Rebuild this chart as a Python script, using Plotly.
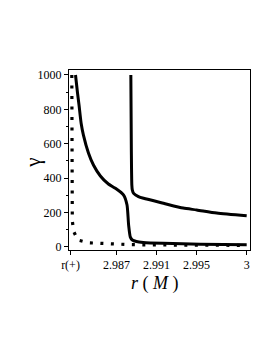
import plotly.graph_objects as go

r_plus = 2.98242

# Curve A (solid, left branch falling to near zero)
a_r = [2.98292, 2.98312, 2.98327, 2.98348, 2.98371, 2.98421, 2.98471, 2.98540,
       2.98620, 2.98690, 2.98772, 2.98806, 2.98822, 2.98839, 2.98859, 2.98900,
       2.98968, 2.99167, 2.99535, 3.0]
a_g = [1000, 895, 825, 719, 650, 546, 476, 412,
       365, 340, 301, 243, 126, 56, 39, 30,
       25, 20, 15, 12]

# Curve B (solid, vertical then decaying)
b_r = [2.98844, 2.98849, 2.98854, 2.98859, 2.98872, 2.98920, 2.98971, 2.99170,
       2.99366, 2.99502, 2.99701, 3.0]
b_g = [1000, 563, 359, 330, 311, 292, 282, 253,
       225, 214, 196, 180]

# Curve C (dotted, near horizon)
c_r = [2.98255, 2.98256, 2.98260, 2.98275, 2.98315, 2.98424, 2.98523, 2.98633,
       2.98739, 2.98839, 2.9920, 2.9960, 3.0]
c_g = [1000, 500, 150, 87, 39, 23, 20, 16,
       14, 12, 10, 9, 8]

x_tickvals = [r_plus, 2.987, 2.991, 2.995, 3.0]
x_ticktext = ["r(+)", "2.987", "2.991", "2.995", "3"]
y_tickvals = [0, 200, 400, 600, 800, 1000]

fig = go.Figure()
fig.add_trace(go.Scatter(x=c_r, y=c_g, mode="lines",
                         line=dict(color="black", width=3.2, dash="3px,7.5px"),
                         showlegend=False))
fig.add_trace(go.Scatter(x=a_r, y=a_g, mode="lines", line_shape="spline",
                         line=dict(color="black", width=3, smoothing=0.6),
                         showlegend=False))
fig.add_trace(go.Scatter(x=b_r, y=b_g, mode="lines", line_shape="spline",
                         line=dict(color="black", width=3, smoothing=0.6),
                         showlegend=False))

font_serif = "Liberation Serif"
fig.update_layout(
    width=273, height=353,
    margin=dict(l=60.5, r=31, t=62, b=111),
    paper_bgcolor="white", plot_bgcolor="white",
    font=dict(family=font_serif, size=12, color="black"),
    xaxis=dict(range=[2.98227, 3.00033], tickvals=x_tickvals, ticktext=x_ticktext,
               automargin=False,
               showgrid=False, zeroline=False, showline=True, linecolor="black",
               linewidth=1, mirror=True, ticks="outside", ticklen=4,
               tickcolor="black", tickfont=dict(family=font_serif, size=12, color="black")),
    yaxis=dict(range=[-19, 1029], tickvals=y_tickvals,
               automargin=False,
               showgrid=False, zeroline=False, showline=True, linecolor="black",
               linewidth=1, mirror=True, ticks="outside", ticklen=4,
               tickcolor="black", tickfont=dict(family=font_serif, size=12, color="black"),
               minor=dict(dtick=100, ticks="outside", ticklen=2, tickcolor="black")),
    annotations=[
        dict(text="<i>r</i> ( <i>M</i> )", xref="paper", yref="paper",
             x=0.4766, y=-0.188, xanchor="center", yanchor="middle",
             showarrow=False, font=dict(family=font_serif, size=18, color="black")),
        dict(text="γ", xref="paper", yref="paper", textangle=-90,
             x=-0.201, y=0.483, xanchor="center", yanchor="middle",
             showarrow=False, font=dict(family=font_serif, size=21, color="black")),
    ],
)

fig.write_html("out.html")
